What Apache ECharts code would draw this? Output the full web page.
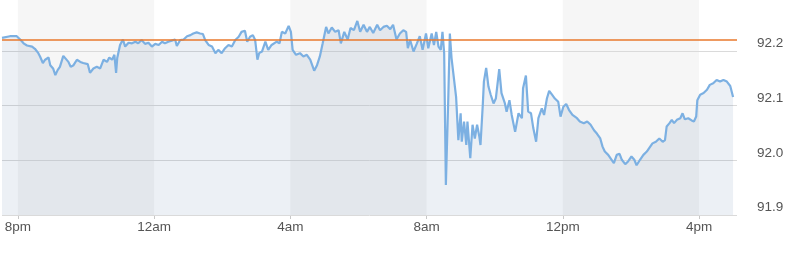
<!DOCTYPE html>
<html><head><meta charset="utf-8">
<script src="https://cdn.jsdelivr.net/npm/echarts@6/dist/echarts.min.js"></script>
<style>html,body{margin:0;padding:0;background:#fff}#c{width:800px;height:265px}</style>
</head><body><div id="c"></div>
<script>
const times = ["19:32","19:46","19:58","20:01","20:05","20:10","20:16","20:25","20:30","20:36","20:39","20:44","20:48","20:54","20:57","21:02","21:06","21:10","21:14","21:20","21:23","21:29","21:33","21:38","21:44","21:50","21:55","22:03","22:07","22:13","22:19","22:25","22:31","22:37","22:41","22:46","22:50","22:53","22:55","23:00","23:05","23:09","23:15","23:21","23:27","23:32","23:38","23:44","23:50","23:56","00:02","00:08","00:14","00:19","00:25","00:31","00:37","00:40","00:46","00:52","00:58","01:04","01:09","01:15","01:21","01:26","01:30","01:36","01:42","01:48","01:53","01:59","02:05","02:11","02:17","02:23","02:29","02:34","02:40","02:44","02:49","02:54","02:58","03:02","03:05","03:10","03:16","03:21","03:27","03:30","03:36","03:41","03:45","03:51","03:57","04:01","04:04","04:10","04:17","04:23","04:29","04:35","04:42","04:47","04:52","04:57","05:03","05:07","05:13","05:19","05:25","05:29","05:35","05:41","05:46","05:52","05:58","06:03","06:09","06:15","06:20","06:26","06:33","06:38","06:44","06:50","06:56","07:01","07:07","07:13","07:19","07:24","07:27","07:31","07:37","07:43","07:48","07:53","07:59","08:03","08:09","08:13","08:17","08:21","08:25","08:28","08:31","08:34","08:38","08:41","08:44","08:47","08:52","08:56","09:00","09:02","09:06","09:10","09:12","09:17","09:21","09:25","09:29","09:33","09:35","09:39","09:41","09:45","09:49","09:53","09:58","10:02","10:08","10:12","10:18","10:21","10:26","10:30","10:36","10:42","10:48","10:50","10:55","10:59","11:04","11:08","11:13","11:17","11:23","11:27","11:32","11:36","11:41","11:46","11:52","11:56","12:01","12:06","12:11","12:17","12:25","12:30","12:37","12:43","12:49","12:55","13:00","13:06","13:10","13:14","13:20","13:26","13:30","13:35","13:40","13:44","13:50","13:55","14:01","14:06","14:10","14:16","14:22","14:28","14:34","14:38","14:44","14:50","14:56","15:00","15:03","15:08","15:12","15:16","15:21","15:27","15:31","15:35","15:41","15:47","15:51","15:55","15:57","16:02","16:08","16:14","16:19","16:25","16:31","16:37","16:43","16:49","16:55","17:00"];
const values = [92.224,92.227,92.227,92.228,92.220,92.214,92.210,92.208,92.204,92.196,92.190,92.178,92.184,92.188,92.174,92.168,92.156,92.165,92.171,92.191,92.188,92.180,92.171,92.174,92.184,92.180,92.178,92.176,92.160,92.168,92.171,92.168,92.184,92.180,92.188,92.184,92.193,92.160,92.187,92.211,92.221,92.208,92.215,92.214,92.217,92.214,92.220,92.213,92.215,92.208,92.213,92.211,92.217,92.214,92.217,92.219,92.221,92.209,92.220,92.221,92.227,92.229,92.232,92.234,92.232,92.231,92.220,92.211,92.208,92.196,92.202,92.196,92.205,92.211,92.208,92.220,92.226,92.235,92.237,92.217,92.226,92.229,92.220,92.184,92.196,92.199,92.217,92.202,92.211,92.214,92.217,92.214,92.235,92.232,92.246,92.235,92.202,92.193,92.196,92.190,92.193,92.184,92.164,92.174,92.190,92.214,92.244,92.232,92.243,92.235,92.238,92.214,92.235,92.221,92.242,92.238,92.255,92.235,92.248,92.235,92.244,92.233,92.248,92.238,92.244,92.246,92.240,92.248,92.221,92.232,92.238,92.235,92.205,92.220,92.199,92.214,92.227,92.202,92.232,92.205,92.232,92.211,92.235,92.208,92.202,92.235,92.196,91.955,92.104,92.232,92.187,92.190,92.116,92.037,92.086,92.034,92.071,92.028,92.071,92.004,92.065,92.040,92.065,92.043,92.028,92.101,92.144,92.169,92.135,92.120,92.104,92.113,92.167,92.123,92.104,92.089,92.110,92.083,92.052,92.086,92.077,92.132,92.155,92.089,92.086,92.059,92.034,92.077,92.095,92.083,92.113,92.127,92.120,92.113,92.107,92.080,92.098,92.103,92.092,92.083,92.077,92.071,92.068,92.071,92.065,92.055,92.049,92.040,92.025,92.016,92.010,92.001,91.995,92.010,92.012,92.001,91.993,91.998,92.007,92.001,91.991,92.001,92.010,92.016,92.025,92.031,92.034,92.040,92.034,92.037,92.062,92.068,92.074,92.068,92.074,92.077,92.086,92.075,92.077,92.073,92.071,92.080,92.110,92.120,92.123,92.129,92.138,92.141,92.147,92.144,92.147,92.144,92.136,92.116];
const tickHours = [20, 24, 28, 32, 36, 40];
const tickLabels = ["8pm", "12am", "4am", "8am", "12pm", "4pm"];
const bandRanges = [[20, 24], [28, 32], [36, 40]];
const referenceLevel = 92.223;
const axisEndHour = 41.115;

function toHours(t) {
  const p = t.split(':').map(Number);
  let v = p[0] + p[1] / 60;
  if (v < 19) v += 24;
  return v;
}
const data = times.map((t, i) => [toHours(t), values[i]]);
const labelMap = {};
tickHours.forEach((h, i) => { labelMap[h] = tickLabels[i]; });

const font = '"Liberation Sans", Arial, sans-serif';
const chart = echarts.init(document.getElementById('c'), null, {renderer: 'canvas'});
chart.setOption({
  animation: false,
  backgroundColor: '#ffffff',
  grid: {left: 2, right: 63, top: -3.7, bottom: 50, containLabel: false, outerBoundsMode: 'none'},
  xAxis: {
    type: 'value',
    min: data[0][0],
    max: axisEndHour,
    splitLine: {show: false},
    axisLine: {show: false},
    axisTick: {show: true, customValues: tickHours, length: 4, lineStyle: {color: '#c8c8c8'}},
    axisLabel: {
      customValues: tickHours,
      formatter: v => labelMap[Math.round(v)] || '',
      color: '#555', fontSize: 13.5, fontFamily: font, margin: 5
    }
  },
  yAxis: {
    type: 'value',
    position: 'right',
    min: 91.9, max: 92.3, interval: 0.1,
    z: 2,
    axisLine: {show: false},
    axisTick: {show: false},
    splitLine: {show: true, lineStyle: {color: '#dadada', width: 1}},
    axisLabel: {
      showMaxLabel: false,
      formatter: v => v.toFixed(1),
      color: '#555', fontSize: 13.5, fontFamily: font, margin: 20,
      verticalAlign: 'bottom', lineHeight: 15
    }
  },
  series: [
    {
      type: 'line', data: [], z: 0, silent: true,
      markArea: {
        silent: true, z: 0,
        itemStyle: {color: '#f6f6f6'},
        data: bandRanges.map(r => [{xAxis: r[0]}, {xAxis: r[1]}])
      }
    },
    {
      type: 'line', data: data, z: 3, showSymbol: false, symbol: 'none',
      lineStyle: {color: '#7cb0e2', width: 2.2},
      areaStyle: {color: 'rgba(40,80,135,0.12)', origin: 'start'},
      markLine: {
        silent: true, symbol: 'none', label: {show: false},
        lineStyle: {color: '#e8792d', width: 1.5, type: 'solid'},
        data: [{yAxis: referenceLevel}]
      }
    }
  ]
});
</script></body></html>
